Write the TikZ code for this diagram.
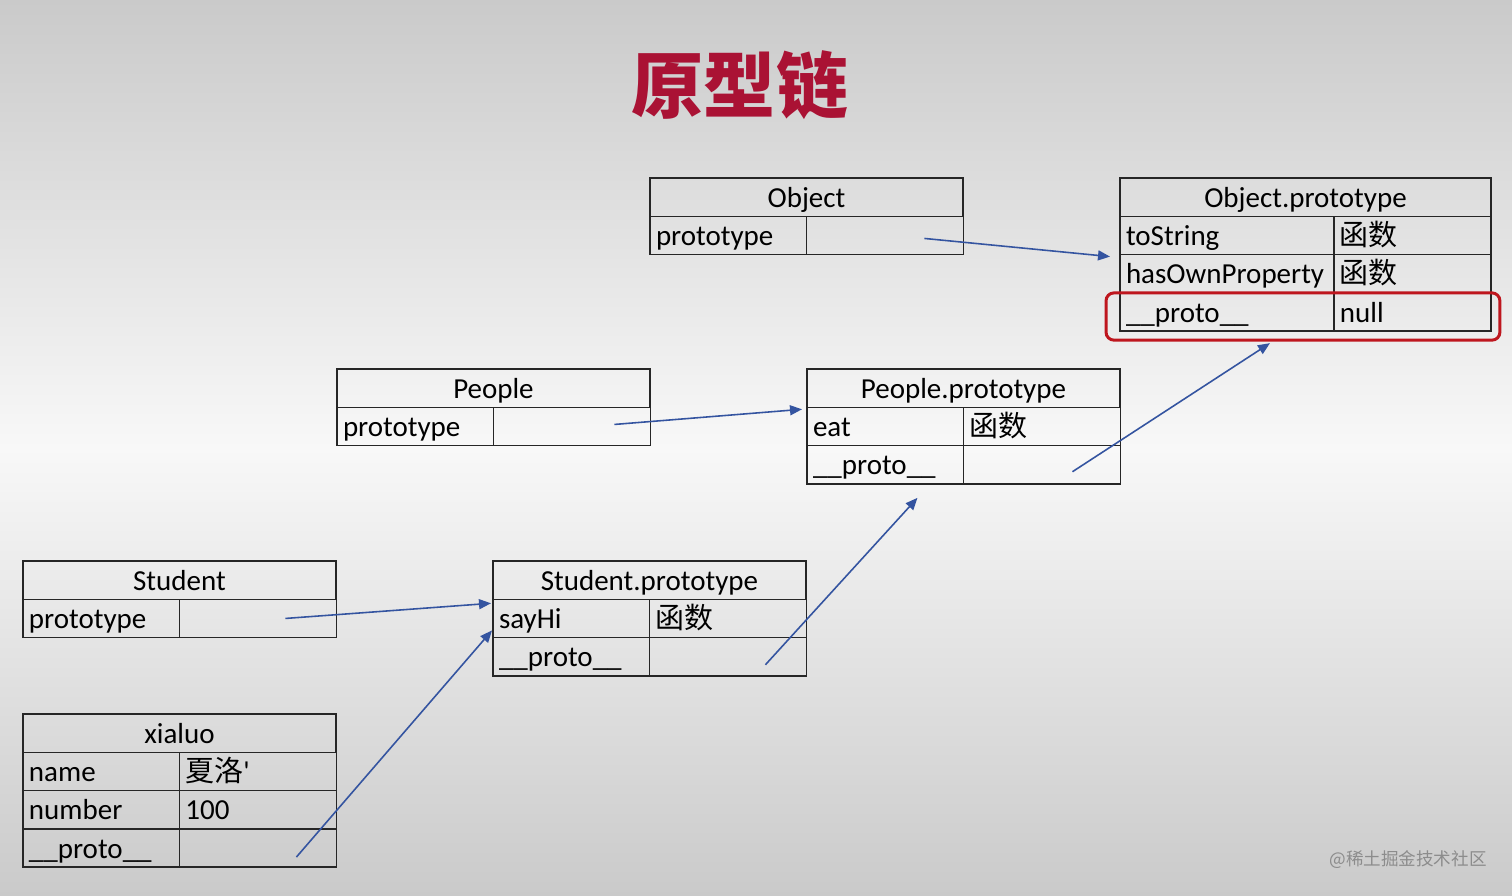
\documentclass[tikz,border=0pt]{standalone}
\usepackage{fontspec}
\setmainfont{Carlito}
\newfontfamily\cjk{Noto Sans CJK SC}
\usepackage{tikz}
\usetikzlibrary{arrows.meta}
\usetikzlibrary{positioning}

\definecolor{bgtop}{RGB}{202,202,202}
\definecolor{bgmid}{RGB}{248,248,248}
\definecolor{bgbot}{RGB}{202,202,202}
\definecolor{titlered}{RGB}{170,18,52}
\definecolor{linkblue}{RGB}{52,84,160}
\definecolor{markred}{RGB}{190,22,30}

\begin{document}
\begin{tikzpicture}[x=0.02cm,y=-0.02cm,
  every node/.style={font=\fontsize{16.5}{18}\selectfont, outer sep=0pt},
  head/.style={draw=black!85, line width=0.9pt, minimum width=#1, minimum height=0.766cm, inner sep=0pt, text height=0.5cm, text depth=0.1cm, align=center},
  cell/.style={draw=black!85, line width=0.9pt, text width=#1, minimum height=0.766cm, inner xsep=0.12cm, inner ysep=0pt, text height=0.5cm, text depth=0.1cm, align=left},
  link/.style={linkblue, line width=0.9pt, -{Triangle[length=0.24cm,width=0.2cm]}}]

\useasboundingbox (0,0) rectangle (1512,896);
\shade[top color=bgtop, bottom color=bgbot, middle color=bgmid] (0,0) rectangle (1512,896);

%title
\node[titlered, font=\cjk\bfseries\fontsize{41}{44}\selectfont] (title) at (740,85) {原型链};

%Object
\node[head=6.26cm, anchor=north west] (obj-h) at (650,178) {Object};
\node[cell=2.89cm, anchor=north west] (obj-k1) at (obj-h.south west) {prototype};
\node[cell=2.90cm, anchor=west] (obj-v1) at (obj-k1.east) {};

%Object.prototype
\node[head=7.42cm, anchor=north west] (objp-h) at (1120,178) {Object.prototype};
\node[cell=4.04cm, anchor=north west] (objp-k1) at (objp-h.south west) {toString};
\node[cell=2.90cm, anchor=west] (objp-v1) at (objp-k1.east) {\cjk 函数};
\node[cell=4.04cm, anchor=north west] (objp-k2) at (objp-k1.south west) {hasOwnProperty};
\node[cell=2.90cm, anchor=west] (objp-v2) at (objp-k2.east) {\cjk 函数};
\node[cell=4.04cm, anchor=north west] (objp-k3) at (objp-k2.south west) {\_\_proto\_\_};
\node[cell=2.90cm, anchor=west] (objp-v3) at (objp-k3.east) {null};

\draw[markred, line width=1.7pt, rounded corners=0.16cm]
  ([xshift=-0.28cm]objp-k3.north west) rectangle ([xshift=0.18cm,yshift=-0.18cm]objp-v3.south east);

%People
\node[head=6.26cm, anchor=north west] (ppl-h) at (337,369) {People};
\node[cell=2.89cm, anchor=north west] (ppl-k1) at (ppl-h.south west) {prototype};
\node[cell=2.90cm, anchor=west] (ppl-v1) at (ppl-k1.east) {};

%People.prototype
\node[head=6.26cm, anchor=north west] (pplp-h) at (807,369) {People.prototype};
\node[cell=2.89cm, anchor=north west] (pplp-k1) at (pplp-h.south west) {eat};
\node[cell=2.90cm, anchor=west] (pplp-v1) at (pplp-k1.east) {\cjk 函数};
\node[cell=2.89cm, anchor=north west] (pplp-k2) at (pplp-k1.south west) {\_\_proto\_\_};
\node[cell=2.90cm, anchor=west] (pplp-v2) at (pplp-k2.east) {};

%Student
\node[head=6.26cm, anchor=north west] (stu-h) at (23,561) {Student};
\node[cell=2.89cm, anchor=north west] (stu-k1) at (stu-h.south west) {prototype};
\node[cell=2.90cm, anchor=west] (stu-v1) at (stu-k1.east) {};

%Student.prototype
\node[head=6.26cm, anchor=north west] (stup-h) at (493,561) {Student.prototype};
\node[cell=2.89cm, anchor=north west] (stup-k1) at (stup-h.south west) {sayHi};
\node[cell=2.90cm, anchor=west] (stup-v1) at (stup-k1.east) {\cjk 函数};
\node[cell=2.89cm, anchor=north west] (stup-k2) at (stup-k1.south west) {\_\_proto\_\_};
\node[cell=2.90cm, anchor=west] (stup-v2) at (stup-k2.east) {};

%xialuo
\node[head=6.26cm, anchor=north west] (xl-h) at (23,714) {xialuo};
\node[cell=2.89cm, anchor=north west] (xl-k1) at (xl-h.south west) {name};
\node[cell=2.90cm, anchor=west] (xl-v1) at (xl-k1.east) {{\cjk 夏洛}\textquotesingle};
\node[cell=2.89cm, anchor=north west] (xl-k2) at (xl-k1.south west) {number};
\node[cell=2.90cm, anchor=west] (xl-v2) at (xl-k2.east) {100};
\node[cell=2.89cm, anchor=north west] (xl-k3) at (xl-k2.south west) {\_\_proto\_\_};
\node[cell=2.90cm, anchor=west] (xl-v3) at (xl-k3.east) {};

%prototype links
\draw[link] ([xshift=-0.78cm,yshift=-0.06cm]obj-v1.east) -- ([xshift=-0.2cm,yshift=-0.04cm]objp-k1.south west);
\draw[link] ([xshift=-0.72cm,yshift=0.04cm]ppl-v1.east) -- ([xshift=-0.1cm,yshift=-0.04cm]pplp-h.south west);
\draw[link] ([xshift=-1.02cm]stu-v1.east) -- ([xshift=-0.04cm,yshift=-0.08cm]stup-h.south west);

%__proto__ links
\draw[link] ([xshift=-0.96cm,yshift=-0.14cm]pplp-v2.east) -- ([xshift=-1.28cm,yshift=-0.24cm]objp-k3.south east);
\draw[link] ([xshift=-0.82cm,yshift=-0.16cm]stup-v2.east) -- ([xshift=-0.92cm,yshift=-0.28cm]pplp-k2.south east);
\draw[link] ([xshift=-0.8cm,yshift=-0.18cm]xl-v3.east) -- ([xshift=-0.02cm,yshift=-0.24cm]stup-k1.west);

%watermark
\node[black!45, font=\cjk\fontsize{10}{12}\selectfont] (mark) at (1408,860) {@稀土掘金技术社区};

\end{tikzpicture}
\end{document}
